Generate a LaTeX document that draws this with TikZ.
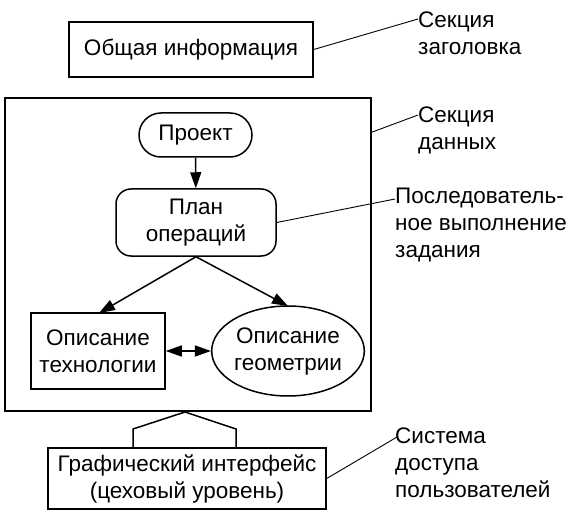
\documentclass[tikz,border=0pt]{standalone}
\usepackage{fontspec}
\setmainfont{Liberation Sans}
\usetikzlibrary{arrows.meta,shapes.geometric,calc}
\begin{document}
\begin{tikzpicture}[x=1pt,y=-1pt,
  every node/.style={font=\fontsize{22.5}{27}\selectfont},
  box/.style={draw,line width=1.5pt,inner sep=0pt,align=center},
  lbl/.style={anchor=north west,align=left,inner sep=0pt},
  arr/.style={line width=1.5pt,-{Triangle[length=16pt,width=11pt]}},
  darr/.style={line width=1.5pt,{Triangle[length=16pt,width=11pt]}-{Triangle[length=16pt,width=11pt]}},
  lead/.style={line width=0.9pt}
]
\useasboundingbox (0,0) rectangle (581,513);

\node[box,minimum width=244pt,minimum height=55pt] (obsh) at (191,49.5) {Общая информация};
\node[box,minimum width=366pt,minimum height=313pt] (data) at (188,254.5) {};
\node[box,minimum width=113pt,minimum height=44pt,rounded corners=22pt] (proj) at (195.5,135) {Проект};
\node[box,minimum width=160pt,minimum height=67pt,rounded corners=15pt] (plan) at (196,222.5) {План\\операций};
\node[box,minimum width=134pt,minimum height=76pt] (tech) at (98,351) {Описание\\технологии};
\node[box,ellipse,minimum width=142pt,minimum height=90pt] (geom) at (288,351) {Описание\\геометрии};
\node[box,minimum width=278pt,minimum height=61pt] (gui) at (187,478.5) {Графический интерфейс\\(цеховый уровень)};

\draw[line width=1.5pt] (133,448) -- (133,429) -- (185,412) -- (236,429) -- (236,448);

\draw[arr] (proj) -- (plan);
\draw[arr] (plan.south) -- (99,313);
\draw[arr] (plan.south) -- (288,306);
\draw[darr] (tech.east) -- (geom.west);

\node[lbl] (l1) at (418,12) {Секция\\заголовка};
\node[lbl] (l2) at (418,107) {Секция\\данных};
\node[lbl] (l3) at (395,188) {Последователь-\\ное выполнение\\задания};
\node[lbl] (l4) at (395,428) {Система\\доступа\\пользователей};

\coordinate (c1) at (418,19);
\coordinate (c2) at (418,115);
\coordinate (c3) at (395,199);
\coordinate (c4) at (397,437);
\draw[lead] (obsh.east) -- (c1);
\draw[lead] ($(data.north east)+(0,35)$) -- (c2);
\draw[lead] (plan.east) -- (c3);
\draw[lead] (gui.east) -- (c4);
\end{tikzpicture}
\end{document}
